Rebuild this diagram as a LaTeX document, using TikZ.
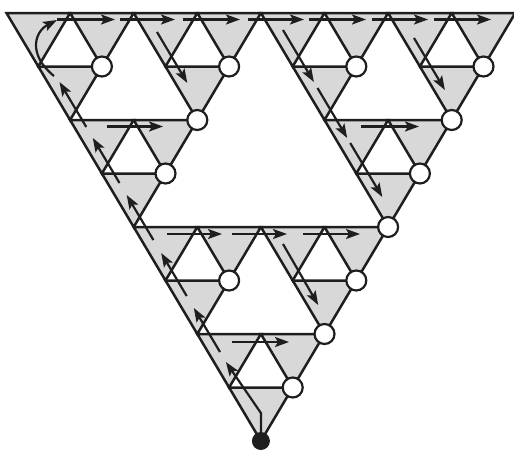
\documentclass[tikz,border=0pt]{standalone}
\usetikzlibrary{arrows.meta}
\definecolor{trigray}{RGB}{216,216,216}
\definecolor{ink}{RGB}{30,30,30}
\begin{document}
\begin{tikzpicture}[x=1pt,y=-1pt,
  tri/.style={fill=trigray,draw=ink,line width=2.5pt,line join=miter},
  arr/.style={line width=2.2pt,draw=ink,-{Stealth[length=14pt,width=10pt,inset=3pt]}},
  vtx/.style={circle,draw=ink,fill=white,line width=2.2pt,minimum size=20pt,inner sep=0pt},
  src/.style={circle,fill=ink,minimum size=18pt,inner sep=0pt}]
\useasboundingbox (0,0) rectangle (514,450);
% lattice points
\foreach \j in {0,...,8}{
  \pgfmathtruncatemacro\kmax{8-\j}
  \foreach \k in {0,...,\kmax}{
    \coordinate (p\k-\j) at ({6.5+31.8*\j+63.6*\k},{13+53.5*\j});
  }
}
% gray triangles
\foreach \k/\j in {0/0,1/0,2/0,3/0,4/0,5/0,6/0,7/0,
                   0/1,2/1,4/1,6/1,
                   0/2,1/2,4/2,5/2,
                   0/3,4/3,
                   0/4,1/4,2/4,3/4,
                   0/5,2/5,
                   0/6,1/6,
                   0/7}{
  \pgfmathtruncatemacro\kk{\k+1}
  \pgfmathtruncatemacro\jj{\j+1}
  \draw[tri] (p\k-\j) -- (p\kk-\j) -- (p\k-\jj) -- cycle;
}
% left-edge path (upwards)
\draw[arr] (p0-8) -- (260.9,413) -- (225.9,362);
\draw[arr] (220.0,352) -- (193.8,308);
\draw[arr] (186.7,296) -- (161.2,253);
\draw[arr] (153.4,240) -- (126.7,195);
\draw[arr] (119.5,183) -- (92.8,138);
\draw[arr] (86.3,127) -- (59.5,82);
\draw[arr] (54,76) .. controls (28,55) and (34,32) .. (57,20);
% top row
\foreach \a/\b in {57/115,120/175,183/240,248/304,309/366,372/428,434/491}{
  \draw[arr] (\a,19.5) -- (\b,19.5);
}
% second-level rows
\draw[arr] (107,126.5) -- (163,126.5);
\draw[arr] (361,126.5) -- (419,126.5);
\draw[arr] (167,234) -- (222,234);
\draw[arr] (232,234) -- (287,234);
\draw[arr] (303,234) -- (360,234);
\draw[arr] (232,342) -- (289,342);
% downward arrows
\draw[arr] (157.0,32) -- (187.3,83);
\draw[arr] (283.0,30) -- (313.9,82);
\draw[arr] (317.5,88) -- (347.2,138);
\draw[arr] (350.2,143) -- (382.3,197);
\draw[arr] (414.0,38) -- (444.9,90);
\draw[arr] (283.0,244) -- (318.2,305);
% white vertices
\foreach \k/\j [count=\n] in {1/1,3/1,5/1,7/1,2/2,6/2,1/3,5/3,4/4,1/5,3/5,2/6,1/7}{
  \node[vtx] (w\n) at (p\k-\j) {};
}
% source
\node[src] (s) at (p0-8) {};
\end{tikzpicture}
\end{document}
